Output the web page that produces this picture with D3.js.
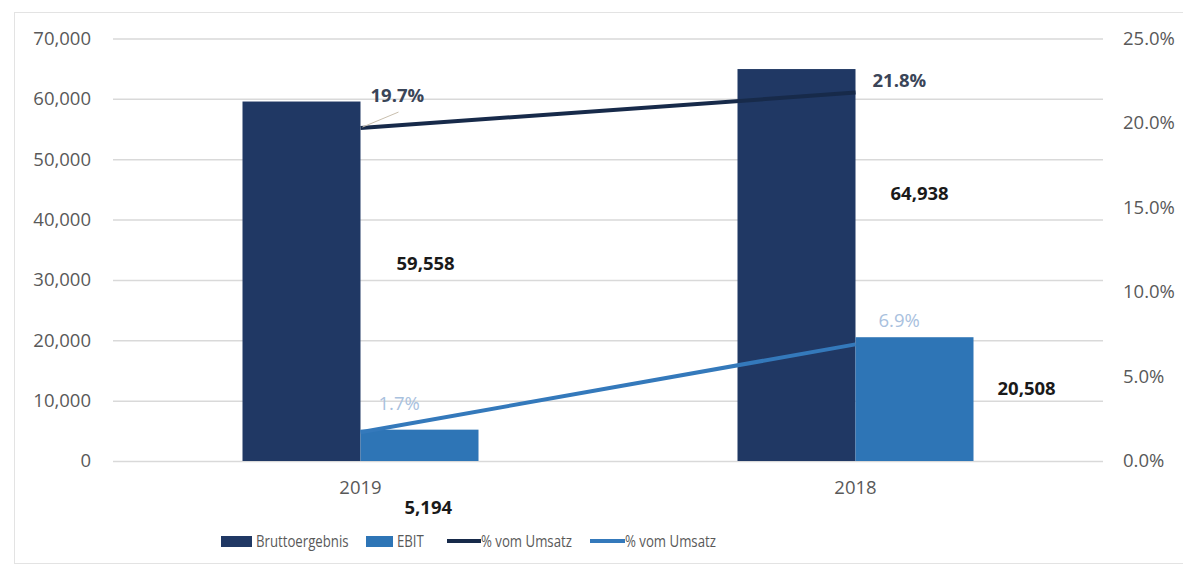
<!DOCTYPE html>
<html>
<head>
<meta charset="utf-8">
<script src="https://cdn.jsdelivr.net/npm/d3@7"></script>
<style>
  body { margin: 0; background: #fff; }
  svg { display: block; }
</style>
</head>
<body>
<div id="vis"></div>
<script>
const FRAME_WIDTH = 1183;
const FRAME_HEIGHT = 571;

// data
const years = ["2019", "2018"];
const bruttoergebnis = [59558, 64938];
const ebit = [5194, 20508];
const pctBrutto = [19.7, 21.8];
const pctEbit = [1.7, 6.9];
const leftTicks = [0, 10000, 20000, 30000, 40000, 50000, 60000, 70000];
const rightTicks = [0, 5, 10, 15, 20, 25];
const seriesNames = ["Bruttoergebnis", "EBIT", "% vom Umsatz", "% vom Umsatz"];

const C_BRUTTO = "#203864";
const C_EBIT = "#2e75b6";
const C_LINE1 = "#172a4a";
const C_LINE2 = "#3479bb";

const FRAME = d3.select("#vis")
  .append("svg")
  .attr("width", FRAME_WIDTH)
  .attr("height", FRAME_HEIGHT);

// outer chart border
FRAME.append("rect")
  .attr("x", 14.5).attr("y", 12.5)
  .attr("width", 1190).attr("height", 551)
  .attr("fill", "none")
  .attr("stroke", "#e3e3e3");

const X0 = d3.scaleBand().domain(years).range([113, 1103]);
const X1 = d3.scaleBand().domain(["b", "e"])
  .range([X0.bandwidth() / 2 - 118, X0.bandwidth() / 2 + 118]);
const Y = d3.scaleLinear().domain([0, 70000]).range([461, 38.5]);
const Y2 = d3.scaleLinear().domain([0, 25]).range([461, 38.5]);

const axisFont = (sel) => sel.attr("fill", "#595959")
  .style("font-family", "'Open Sans', sans-serif").style("font-size", "18.5px");

// gridlines + left axis
const leftAxis = d3.axisLeft(Y).tickValues(leftTicks)
  .tickSize(-(1103 - 113)).tickPadding(22)
  .tickFormat(d3.format(","));
const gL = FRAME.append("g").attr("transform", "translate(113,0)").call(leftAxis);
gL.select(".domain").remove();
gL.selectAll(".tick line").attr("stroke", "#d9d9d9").attr("stroke-width", 1.5);
gL.selectAll("text").call(axisFont);

// right axis
const rightAxis = d3.axisRight(Y2).tickValues(rightTicks).tickSize(0).tickPadding(20)
  .tickFormat(d => d.toFixed(1) + "%");
const gR = FRAME.append("g").attr("transform", "translate(1103,0)").call(rightAxis);
gR.select(".domain").remove();
gR.selectAll("text").call(axisFont);

// x axis labels
const xAxis = d3.axisBottom(X0).tickSize(0).tickPadding(20);
const gX = FRAME.append("g").attr("transform", "translate(0,461)").call(xAxis);
gX.select(".domain").remove();
gX.selectAll("text").call(axisFont);

// bars
const rows = years.map((y, i) => ({year: y, b: bruttoergebnis[i], e: ebit[i]}));
FRAME.selectAll(".bar-b").data(rows).enter().append("rect")
  .attr("class", "bar-b")
  .attr("x", d => X0(d.year) + X1("b"))
  .attr("y", d => Y(d.b))
  .attr("width", X1.bandwidth())
  .attr("height", d => Y(0) - Y(d.b))
  .attr("fill", C_BRUTTO);
FRAME.selectAll(".bar-e").data(rows).enter().append("rect")
  .attr("class", "bar-e")
  .attr("x", d => X0(d.year) + X1("e"))
  .attr("y", d => Y(d.e))
  .attr("width", X1.bandwidth())
  .attr("height", d => Y(0) - Y(d.e))
  .attr("fill", C_EBIT);

// lines
const cx = (y) => X0(y) + X0.bandwidth() / 2;
const line = d3.line().x(d => cx(d.year)).y(d => Y2(d.v));
FRAME.append("path")
  .datum(years.map((y, i) => ({year: y, v: pctEbit[i]})))
  .attr("d", line).attr("fill", "none")
  .attr("stroke", C_LINE2).attr("stroke-width", 4);
FRAME.append("path")
  .datum(years.map((y, i) => ({year: y, v: pctBrutto[i]})))
  .attr("d", line).attr("fill", "none")
  .attr("stroke", C_LINE1).attr("stroke-width", 4);

// data labels (moved by hand in the original, so offsets)
const fmt = d3.format(",");
const label = (x, y, txt, color, bold) => FRAME.append("text")
  .attr("x", x).attr("y", y).attr("dy", "0.35em")
  .attr("fill", color)
  .style("font-family", "'Open Sans', sans-serif")
  .style("font-size", "18.5px")
  .style("font-weight", bold ? "bold" : "normal")
  .text(txt);

// leader line for 19.7%
FRAME.append("line")
  .attr("x1", cx("2019") + 2).attr("y1", Y2(pctBrutto[0]) - 1)
  .attr("x2", cx("2019") + 38).attr("y2", Y2(pctBrutto[0]) - 16)
  .attr("stroke", "#c9bfae").attr("stroke-width", 1);

label(cx("2019") + 10, Y2(pctBrutto[0]) - 33, pctBrutto[0].toFixed(1) + "%", "#3a4558", true);
label(cx("2018") + 17, Y2(pctBrutto[1]) - 12, pctBrutto[1].toFixed(1) + "%", "#3a4558", true);
label(cx("2019") + 18, Y2(pctEbit[0]) - 29, pctEbit[0].toFixed(1) + "%", "#a9c1de", false);
label(cx("2018") + 23, Y2(pctEbit[1]) - 24, pctEbit[1].toFixed(1) + "%", "#a9c1de", false);
label(cx("2019") + 36, Y(bruttoergebnis[0]) + 162, fmt(bruttoergebnis[0]), "#1a1a1a", true);
label(cx("2018") + 35, Y(bruttoergebnis[1]) + 124, fmt(bruttoergebnis[1]), "#1a1a1a", true);
label(cx("2018") + 142, Y(ebit[1]) + 51, fmt(ebit[1]), "#1a1a1a", true);
label(cx("2019") + 44, Y(ebit[0]) + 78, fmt(ebit[0]), "#1a1a1a", true);

// legend (text squeezed horizontally like the narrow original font)
const legendX = [221, 366, 447, 590];
const legendW = [31, 27, 34, 35];
const legend = FRAME.append("g").attr("transform", "translate(0,541)");
seriesNames.forEach((name, i) => {
  if (i < 2) {
    legend.append("rect")
      .attr("x", legendX[i]).attr("y", -5)
      .attr("width", legendW[i]).attr("height", 11)
      .attr("fill", i === 0 ? C_BRUTTO : C_EBIT);
  } else {
    legend.append("line")
      .attr("x1", legendX[i]).attr("x2", legendX[i] + legendW[i])
      .attr("y1", 0).attr("y2", 0)
      .attr("stroke", i === 2 ? C_LINE1 : C_LINE2).attr("stroke-width", 4);
  }
  legend.append("text")
    .attr("transform", `translate(${legendX[i] + legendW[i] + (i < 2 ? 4 : 0)},0) scale(0.8,1)`)
    .attr("dy", "0.35em")
    .attr("fill", "#595959")
    .style("font-family", "'Open Sans', sans-serif")
    .style("font-size", "16.5px")
    .text(name);
});
</script>
</body>
</html>
